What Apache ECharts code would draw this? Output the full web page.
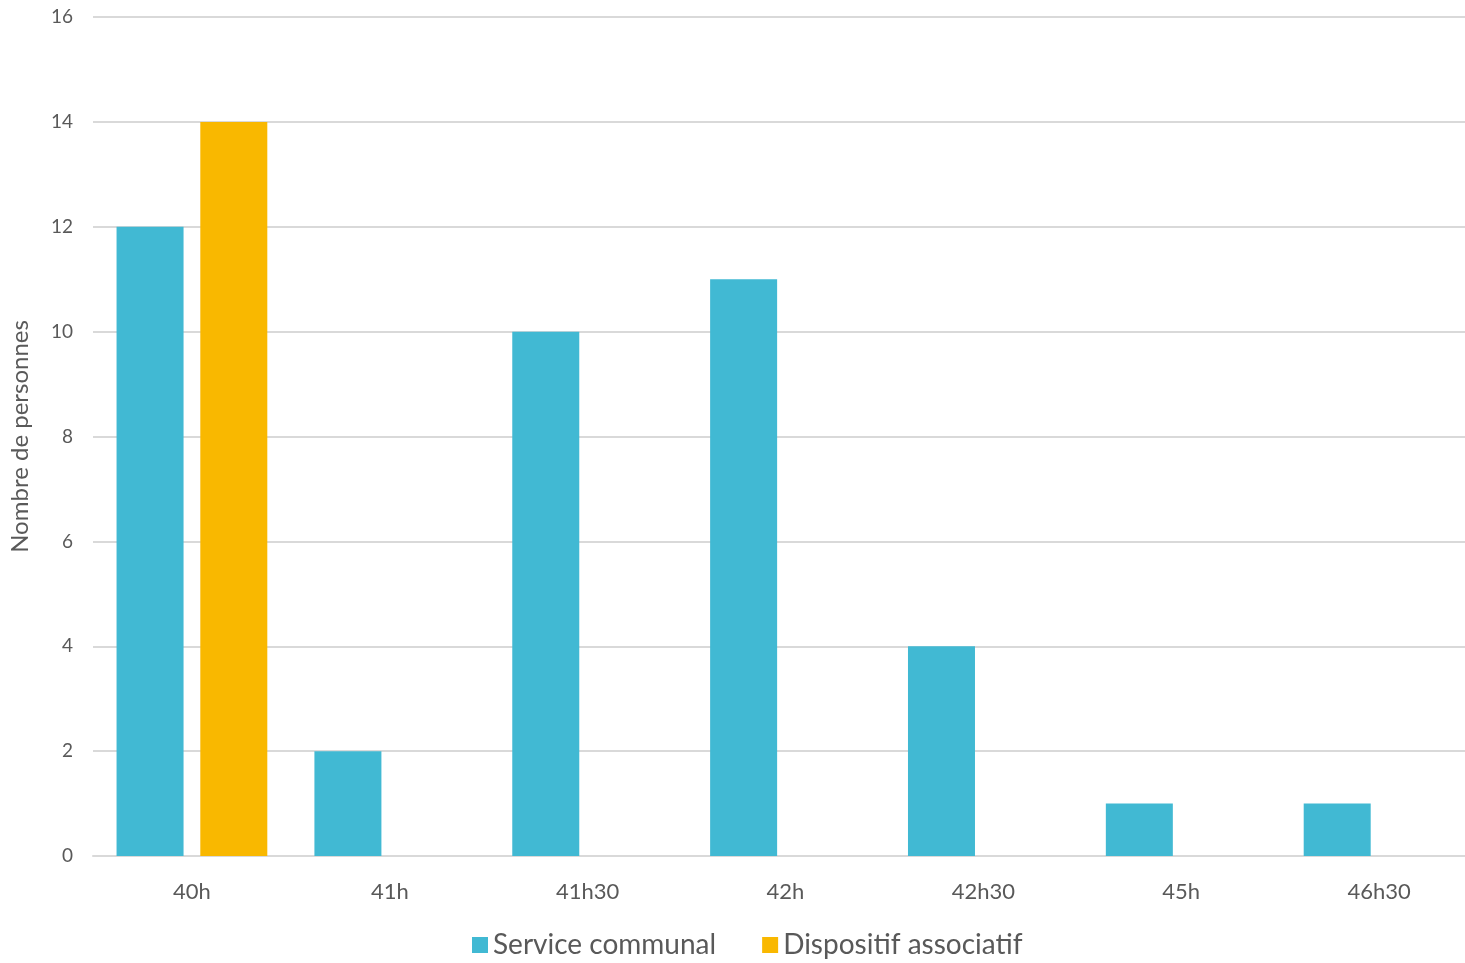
<!DOCTYPE html>
<html>
<head>
<meta charset="utf-8">
<script src="https://cdn.jsdelivr.net/npm/echarts@6/dist/echarts.min.js"></script>
<style>html,body{margin:0;padding:0;background:#fff;overflow:hidden;}#c{width:1478px;height:963px;}</style>
</head>
<body>
<div id="c"></div>
<script>
const categories = ['40h', '41h', '41h30', '42h', '42h30', '45h', '46h30'];
const serviceCommunal = [12, 2, 10, 11, 4, 1, 1];
const dispositifAssociatif = [14, 0, 0, 0, 0, 0, 0];
const yTicks = { min: 0, max: 16, interval: 2 };

const chart = echarts.init(document.getElementById('c'));
const font = 'Lato, "Open Sans", sans-serif';
chart.setOption({
  animation: false,
  textStyle: { fontFamily: font },
  grid: { left: 90, right: 0, top: 17, bottom: 107, containLabel: false },
  legend: {
    bottom: -1, left: 467,
    itemWidth: 16, itemHeight: 16, itemGap: 46,
    icon: 'rect',
    textStyle: { fontSize: 28, color: '#595959', fontFamily: font },
    data: ['Service communal', 'Dispositif associatif']
  },
  xAxis: {
    type: 'category', data: categories,
    axisLine: { lineStyle: { color: '#d9d9d9', width: 2 } },
    axisTick: { show: false },
    axisLabel: { color: '#595959', fontSize: 22, margin: 25 }
  },
  yAxis: {
    type: 'value', min: yTicks.min, max: yTicks.max, interval: yTicks.interval,
    name: 'Nombre de personnes', nameLocation: 'middle', nameGap: 61,
    nameTextStyle: { color: '#595959', fontSize: 24 },
    axisLine: { show: false }, axisTick: { show: false },
    axisLabel: { color: '#595959', fontSize: 19, margin: 20 },
    splitLine: { lineStyle: { color: '#d9d9d9', width: 2 } }
  },
  series: [
    { name: 'Service communal', type: 'bar', data: serviceCommunal, barWidth: 67, barGap: '25%',
      itemStyle: { color: '#41B9D3' } },
    { name: 'Dispositif associatif', type: 'bar', data: dispositifAssociatif, barWidth: 67,
      itemStyle: { color: '#F9B800' } }
  ]
});
</script>
</body>
</html>
